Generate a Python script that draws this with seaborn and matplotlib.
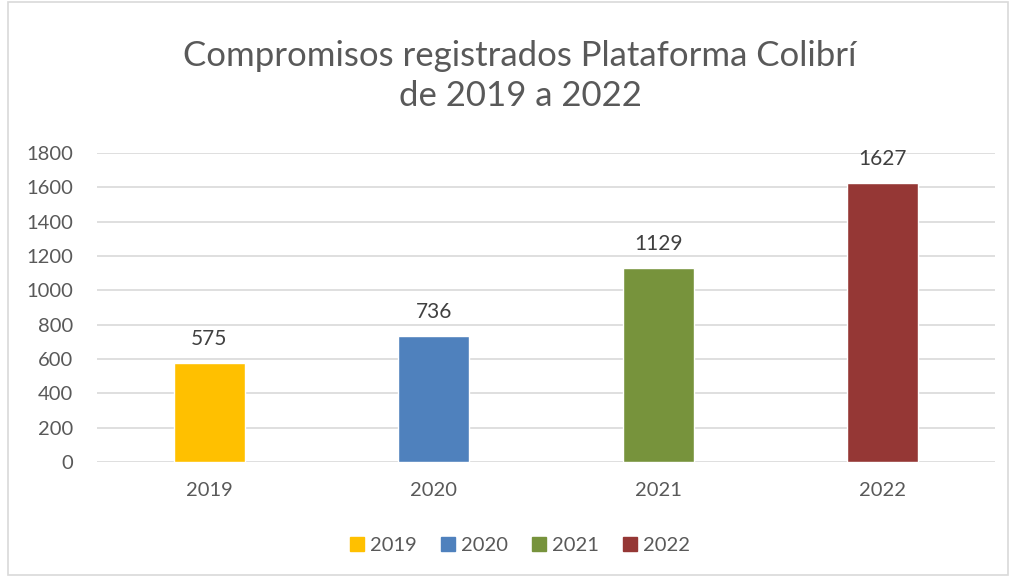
import pandas as pd
import seaborn as sns
import matplotlib.pyplot as plt
from matplotlib.patches import Rectangle

years = ['2019', '2020', '2021', '2022']
compromisos = [575, 736, 1129, 1627]
colores = ['#FFC000', '#4F81BD', '#77933C', '#953735']

df = pd.DataFrame({'Año': years, 'Compromisos': compromisos})

sns.set_style('white')
plt.rcParams['font.family'] = ['Lato', 'DejaVu Sans']

fig = plt.figure(figsize=(10.1, 5.77), dpi=100)
ax = fig.add_axes([0.096, 0.199, 0.889, 0.536])
sns.barplot(data=df, x='Año', y='Compromisos', hue='Año', palette=colores,
            width=0.316, dodge=False, legend=False, ax=ax, saturation=1)

ax.set_ylim(0, 1800)
ax.set_yticks(range(0, 1801, 200))
ax.grid(axis='y', color='#D9D9D9', linewidth=1.2)
ax.set_axisbelow(True)
sns.despine(ax=ax, left=True, bottom=True)
ax.set_xlabel('')
ax.set_ylabel('')
ax.tick_params(axis='both', colors='#595959', labelsize=14.5, length=0)
ax.tick_params(axis='y', pad=17)
ax.tick_params(axis='x', pad=14)

for i, v in enumerate(compromisos):
    ax.annotate(str(v), (i, v), xytext=(0, 10), textcoords='offset points',
                ha='center', va='bottom', fontsize=15, color='#404040')

fig.text(0.515, 0.868, 'Compromisos registrados Plataforma Colibrí\nde 2019 a 2022',
         ha='center', va='center', fontsize=25, color='#595959', linespacing=1.3)

handles = [Rectangle((0, 0), 1, 1, color=c) for c in colores]
fig.legend(handles, years, loc='center', bbox_to_anchor=(0.515, 0.054), ncol=4,
           frameon=False, fontsize=14.5, labelcolor='#595959', handlelength=0.7,
           handleheight=0.7, handletextpad=0.3, columnspacing=1.2)

fig.patches.append(Rectangle((0.008, 0.003), 0.99, 0.994, transform=fig.transFigure,
                             fill=False, edgecolor='#D9D9D9', linewidth=1.2))

fig.savefig('out.png', dpi=100)
plt.close(fig)
